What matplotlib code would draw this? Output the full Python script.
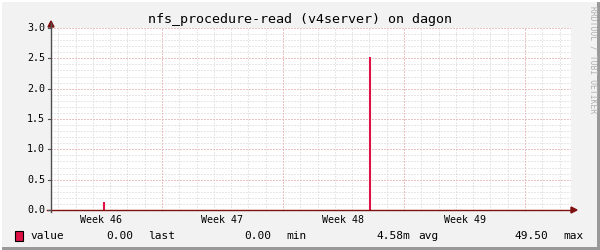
import matplotlib
matplotlib.use("Agg")
import matplotlib.pyplot as plt
from matplotlib.patches import Rectangle, Polygon
import numpy as np

# ---- data ----
spike_days = [3.07, 18.45]          # position in days from left edge of graph
spike_values = [0.13, 2.53]
week_labels = ["Week 46", "Week 47", "Week 48", "Week 49"]
y_ticks = [0.0, 0.5, 1.0, 1.5, 2.0, 2.5, 3.0]
y_tick_labels = ["0.0", "0.5", "1.0", "1.5", "2.0", "2.5", "3.0"]
legend_name = "value"
legend_last = "0.00"
legend_min = "0.00"
legend_avg = "4.58m"
legend_max = "49.50"
title = "nfs_procedure-read (v4server) on dagon"

W, H = 600, 250
fig = plt.figure(figsize=(W / 100, H / 100), dpi=100)
fig.patch.set_facecolor("#F2F2F2")

def px(x, y):
    return x / W, 1 - y / H

# plot area in pixels
L, R, T, B = 51, 571, 28, 210
ax = fig.add_axes([L / W, 1 - B / H, (R - L) / W, (B - T) / H])
ax.set_facecolor("white")
span_days = 30.08
ax.set_xlim(0, span_days)
ax.set_ylim(0, 3.0)
for s in ax.spines.values():
    s.set_visible(False)
ax.set_xticks([])
ax.set_yticks([])

minor_col = "#D0D0D0"
major_col = "#F0A0A0"
dash = (0, (1, 2))
day_offset = 0.42
# minor vertical (days)
for d in np.arange(day_offset, span_days, 1.0):
    ax.axvline(d, color=minor_col, lw=0.72, ls=dash, zorder=1)
# minor horizontal (0.1)
for v in np.arange(0.1, 3.01, 0.1):
    ax.axhline(v, color=minor_col, lw=0.72, ls=dash, zorder=1)
# major vertical (weeks)
week_starts = [day_offset + 6 + 7 * k for k in range(len(week_labels))]
for d in week_starts:
    ax.axvline(d, color=major_col, lw=0.72, ls=dash, zorder=2)
for v in y_ticks[1:]:
    ax.axhline(v, color=major_col, lw=0.72, ls=dash, zorder=2)

# data
ax.vlines(spike_days, 0, spike_values, color="#DD1144", lw=1.5, zorder=4)

axis_col = "#7F1010"
# axes lines & arrows in figure coords
fig.add_artist(plt.Line2D([L / W, L / W], [1 - (B + 2) / H, 1 - 23 / H], color="#505050", lw=1.0))
fig.add_artist(plt.Line2D([(L - 4) / W, 572 / W], [1 - B / H, 1 - B / H], color=axis_col, lw=1.0))
fig.add_artist(Polygon([px(L - 3, 27), px(L + 3, 27), px(L, 21)], closed=True, color=axis_col))
fig.add_artist(Polygon([px(571, B - 3), px(571, B + 3), px(577, B)], closed=True, color=axis_col))
# y ticks marks
for v in y_ticks:
    yp = B - v / 3.0 * (B - T)
    fig.add_artist(plt.Line2D([(L - 3) / W, L / W], [1 - yp / H, 1 - yp / H], color="#505050", lw=0.8))

mono = "DejaVu Sans Mono"
tick_fs = 7.2
for v, lab in zip(y_ticks, y_tick_labels):
    yp = B - v / 3.0 * (B - T)
    fig.text(45 / W, 1 - yp / H, lab, ha="right", va="center", fontsize=tick_fs, family=mono, color="#000000")

for d, lab in zip(week_starts, week_labels):
    ax.text(d - 3.5, -0.03, lab, ha="center", va="top", fontsize=tick_fs, family=mono,
            transform=ax.get_xaxis_transform())

fig.text(300 / W, 1 - 19 / H, title, ha="center", va="center", fontsize=9.6, family=mono)

# watermark
fig.text(593 / W, 1 - 60 / H, "RRDTOOL / TOBI OETIKER", rotation=270, ha="center", va="center",
         fontsize=5.8, family=mono, color="#B0B0B0")

# legend
leg_fs = 8.0
ly = 1 - 236 / H
fig.add_artist(Rectangle(px(15, 241), 8 / W, 10 / H, facecolor="#DD1144", edgecolor="black", lw=0.8))
fig.text(30 / W, ly, legend_name, ha="left", va="center", fontsize=leg_fs, family=mono)
fig.text(133 / W, ly, legend_last, ha="right", va="center", fontsize=leg_fs, family=mono)
fig.text(148 / W, ly, "last", ha="left", va="center", fontsize=leg_fs, family=mono)
fig.text(271 / W, ly, legend_min, ha="right", va="center", fontsize=leg_fs, family=mono)
fig.text(286 / W, ly, "min", ha="left", va="center", fontsize=leg_fs, family=mono)
fig.text(410 / W, ly, legend_avg, ha="right", va="center", fontsize=leg_fs, family=mono)
fig.text(418 / W, ly, "avg", ha="left", va="center", fontsize=leg_fs, family=mono)
fig.text(548 / W, ly, legend_max, ha="right", va="center", fontsize=leg_fs, family=mono)
fig.text(563 / W, ly, "max", ha="left", va="center", fontsize=leg_fs, family=mono)

# 3D border
fig.add_artist(plt.Line2D([0, 1], [1 - 0.5 / H, 1 - 0.5 / H], color="white", lw=1.5))
fig.add_artist(plt.Line2D([0.5 / W, 0.5 / W], [0, 1], color="white", lw=1.5))
fig.add_artist(Rectangle((0, 0), 1, 3 / H, facecolor="#999999", edgecolor="none"))
fig.add_artist(Rectangle((1 - 3 / W, 0), 3 / W, 1, facecolor="#999999", edgecolor="none"))

fig.savefig("out.png", dpi=100, facecolor=fig.get_facecolor())
